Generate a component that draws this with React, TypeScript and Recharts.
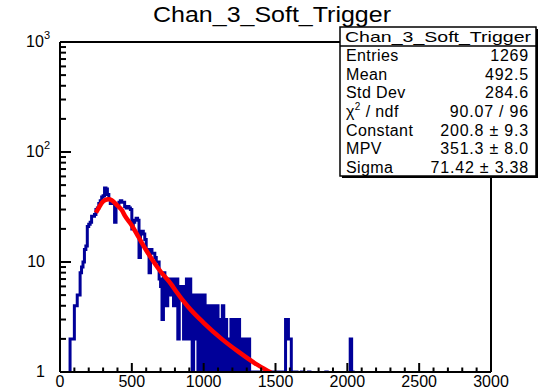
import React from 'react';
import { ComposedChart, Line, XAxis, YAxis } from 'recharts';

// histogram: 10-wide bins starting at 0
const binStart = 0;
const binWidth = 10;
const counts = [
  0, 0, 0, 0, 0, 0, 0, 2, 2, 2,
  4, 4, 5, 5, 8, 9, 10, 13, 14, 21,
  22, 23, 26, 26, 27, 30, 31, 34, 36, 39,
  40, 47, 46, 41, 37, 34, 35, 34, 23, 33,
  33, 35, 36, 35, 35, 32, 31, 32, 31, 30,
  20, 23, 24, 25, 24, 11, 18, 19, 18, 16,
  13, 13, 8, 13, 12, 12, 11, 10, 10, 7,
  6, 3, 8, 7, 4, 7, 6, 5, 7, 4,
  6, 7, 2, 6, 5, 6, 2, 4, 7, 2,
  7, 5, 1, 5, 2, 5, 1, 5, 0, 4,
  5, 0, 4, 1, 4, 0, 4, 1, 3, 4,
  0, 3, 1, 4, 0, 3, 1, 2, 0, 3,
  1, 2, 3, 0, 3, 1, 2, 0, 2, 1,
  2, 2, 0, 1, 0, 1, 1, 0, 0, 1,
  0, 1, 0, 0, 1, 0, 1, 0, 0, 1,
  0, 0, 1, 0, 1, 0, 0, 3, 3, 2,
  2, 1, 0, 0, 1, 0, 0, 0, 1, 0,
  0, 0, 0, 1, 0, 0, 0, 0, 0, 0,
  0, 0, 0, 0, 0, 1, 0, 0, 0, 0,
  0, 0, 0, 0, 0, 0, 0, 0, 0, 0,
  0, 0, 2, 1, 0, 0, 0, 0, 0, 0,
];

// landau fit curve, sampled along the drawn line
const fitX = [250, 275, 300, 325, 340, 360, 400, 430, 450, 500, 545, 600, 660, 700, 777, 800, 893, 1000, 1125, 1241, 1357, 1460, 1500];
const fitY = [28, 32, 35.5, 37, 37.2, 36.5, 32.5, 29.7, 26.5, 21.5, 17, 12.8, 9.7, 8.2, 6.2, 5.6, 3.9, 2.8, 2.0, 1.53, 1.2, 1.0, 0.93];

const xTicks = Array.from({ length: 31 }, (_, i) => i * 100);
const yTicks = [1, 2, 3, 4, 5, 6, 7, 8, 9, 10, 20, 30, 40, 50, 60, 70, 80, 90, 100, 200, 300, 400, 500, 600, 700, 800, 900, 1000];

const title = 'Chan_3_Soft_Trigger';
const statLabels = ['Entries', 'Mean', 'Std Dev', 'chi2', 'Constant', 'MPV', 'Sigma'];
const statValues = ['1269', '492.5', '284.6', '90.07 / 96', '200.8 \u00b1 9.3', '351.3 \u00b1 8.0', '71.42 \u00b1 3.38'];

const W = 543;
const H = 390;
const plot = { left: 60, top: 42, right: 491, bottom: 372 };
const FONT = '"Liberation Sans", Arial, Helvetica, sans-serif';
const FLOOR = 0.1; // empty bins fall below the log axis and get clipped

const histData = [
  ...counts.map((c, i) => ({ x: binStart + i * binWidth, y: Math.max(c, FLOOR) })),
  { x: binStart + counts.length * binWidth, y: FLOOR },
];
const fitData = fitX.map((x, i) => ({ x, y: fitY[i] }));

const XTick = (props: any) => {
  const { x, y, payload } = props;
  const major = payload.value % 500 === 0;
  return (
    <g>
      <line x1={x} x2={x} y1={y} y2={y - (major ? 9 : 4.5)} stroke="#000" strokeWidth={2} />
      {major && (
        <text x={x} y={y + 15} textAnchor="middle" fontSize={16} fontFamily={FONT} fill="#000">
          {payload.value}
        </text>
      )}
    </g>
  );
};

const YTick = (props: any) => {
  const { x, y, payload } = props;
  const lg = Math.log10(payload.value);
  const exp = Math.round(lg);
  const major = Math.abs(lg - exp) < 1e-9;
  const sup = exp >= 2;
  return (
    <g>
      <line x1={x} x2={x + (major ? 11 : 6)} y1={y} y2={y} stroke="#000" strokeWidth={2} />
      {major && (
        <text x={x - (sup ? 10 : 15)} y={y + 5} textAnchor="end" fontSize={16} fontFamily={FONT} fill="#000">
          {exp === 0 ? '1' : '10'}
          {sup && <tspan dy={-8} fontSize={11}>{exp}</tspan>}
        </text>
      )}
    </g>
  );
};

const StatsBox = () => {
  const bx = 340;
  const by = 27;
  const bw = 196;
  const bh = 149;
  const head = 19;
  const rowH = (bh - head) / statLabels.length;
  return (
    <g fontFamily={FONT} fill="#000">
      <rect x={bx + 2} y={by + 2} width={bw} height={bh} fill="#000" />
      <rect x={bx} y={by} width={bw} height={bh} fill="#fff" stroke="#000" strokeWidth={1.5} />
      <line x1={bx} x2={bx + bw} y1={by + head} y2={by + head} stroke="#000" strokeWidth={1.5} />
      <text x={bx + bw / 2} y={by + 15} textAnchor="middle" fontSize={15} textLength={186} lengthAdjust="spacingAndGlyphs">
        {title}
      </text>
      {statLabels.map((lab, i) => {
        const ty = by + head + rowH * (i + 0.5) + 6;
        return (
          <g key={lab}>
            <text x={bx + 6} y={ty} fontSize={16} letterSpacing={0.4}>
              {lab === 'chi2' ? (
                <>
                  {'\u03c7'}<tspan dy={-7} fontSize={10}>2</tspan><tspan dy={7}>{' / ndf'}</tspan>
                </>
              ) : lab}
            </text>
            <text x={bx + bw - 7} y={ty} textAnchor="end" fontSize={16} letterSpacing={0.8}>
              {statValues[i]}
            </text>
          </g>
        );
      })}
    </g>
  );
};

export default function App() {
  return (
    <div style={{ position: 'absolute', left: 0, top: 0, width: W, height: H, background: '#fff' }}>
      <ComposedChart
        width={W}
        height={H}
        margin={{ top: plot.top, right: W - plot.right, bottom: 0, left: 0 }}
      >
        <XAxis
          type="number"
          dataKey="x"
          domain={[0, 3000]}
          ticks={xTicks}
          interval={0}
          height={H - plot.bottom}
          tickSize={0}
          tickMargin={0}
          tickLine={false}
          axisLine={{ stroke: '#000', strokeWidth: 2 }}
          tick={XTick}
          allowDataOverflow
        />
        <YAxis
          type="number"
          dataKey="y"
          scale="log"
          domain={[1, 1000]}
          ticks={yTicks}
          interval={0}
          width={plot.left}
          tickSize={0}
          tickMargin={0}
          tickLine={false}
          axisLine={{ stroke: '#000', strokeWidth: 2 }}
          tick={YTick}
          allowDataOverflow
        />
        <Line
          data={histData}
          dataKey="y"
          type="stepAfter"
          stroke="#000099"
          strokeWidth={3}
          dot={false}
          isAnimationActive={false}
        />
        <Line
          data={fitData}
          dataKey="y"
          type="monotone"
          stroke="#ff0000"
          strokeWidth={4.5}
          dot={false}
          isAnimationActive={false}
        />
      </ComposedChart>
      <svg
        width={W}
        height={H}
        style={{ position: 'absolute', left: 0, top: 0, pointerEvents: 'none' }}
      >
        <line x1={plot.left} x2={plot.right} y1={plot.top} y2={plot.top} stroke="#000" strokeWidth={2} />
        <line x1={plot.right} x2={plot.right} y1={plot.top} y2={plot.bottom} stroke="#000" strokeWidth={2} />
        <text x={272} y={22} textAnchor="middle" fontSize={22} fontFamily={FONT} fill="#000" textLength={238} lengthAdjust="spacingAndGlyphs">
          {title}
        </text>
        <StatsBox />
      </svg>
    </div>
  );
}
